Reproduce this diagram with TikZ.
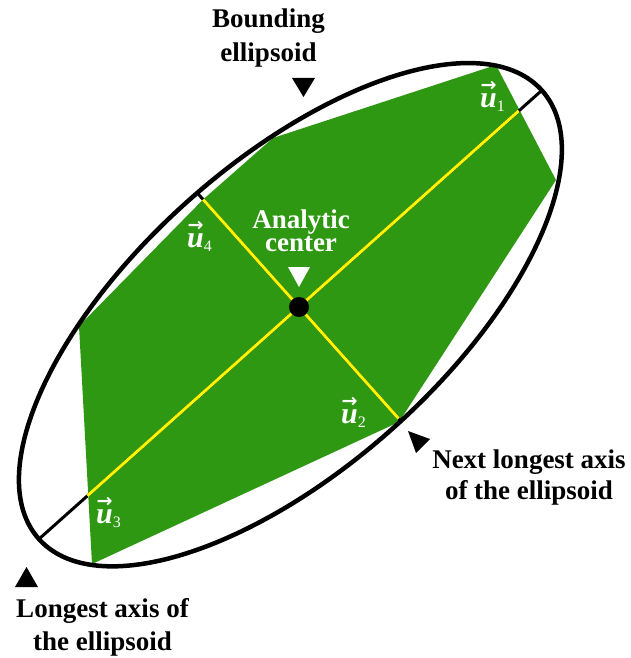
\documentclass[tikz,border=0pt]{standalone}
\usepackage{fontspec}
\setmainfont{Liberation Serif}
\newfontfamily\arrowfont{DejaVu Sans}

\definecolor{polygreen}{RGB}{46,152,19}
\definecolor{axisyellow}{RGB}{255,245,0}

\newcommand{\uvec}[1]{\makebox[0pt][l]{\raisebox{16pt}{\kern0.5pt\arrowfont\bfseries\fontsize{19}{19}\selectfont →}}\textbf{\textit{u}}\raisebox{-4pt}{\fontsize{16}{16}\selectfont #1}}

\tikzset{
  lbl/.style={font=\fontsize{27}{#1}\selectfont\bfseries, align=center, inner sep=0pt},
  lbl/.default=33,
  ulbl/.style={text=white, font=\fontsize{30}{30}\selectfont, inner sep=0pt, anchor=base west},
  axisline/.style={line width=3pt},
}

\begin{document}
\begin{tikzpicture}[x=1pt,y=-1pt]
	\useasboundingbox (0,0) rectangle (631,658);
	% centre of the ellipse, analytic centre, axis ends
	\coordinate (C) at (290.4,314.7);
	\coordinate (D) at (299,307);
	\coordinate (M1) at (541.9,90.3);
	\coordinate (M3) at (38.9,539.1);
	\coordinate (N2) at (400.9,421.2);
	\coordinate (N4) at (197.1,192.8);
	\coordinate (u1) at (518.7,110.9);
	\coordinate (u2) at (398.6,418.6);
	\coordinate (u3) at (87.4,495.8);
	\coordinate (u4) at (203.1,199.5);
	% polytope
	\fill[polygreen] (496,65) -- (556,180) -- (399,422) -- (92,564) -- (79,326) -- (u4) -- (273,138) -- cycle;
	% axes
	\draw[axisline] (M3) -- (M1);
	\draw[axisline] (N4) -- (N2);
	\draw[axisline,axisyellow] (u3) -- (u1);
	\draw[axisline,axisyellow] (u4) -- (u2);
	% ellipse
	\draw[line width=4.5pt, rotate around={41.7:(C)}] (C) ellipse [x radius=337, y radius=153];
	\fill (D) circle [radius=10];
	% markers
	\fill (292,78) -- (315,78) -- (303.5,97) -- cycle;
	\fill[white] (288,267) -- (310,267) -- (299,287) -- cycle;
	\fill (408,431) -- (430,439) -- (416,453) -- cycle;
	\fill (15,587) -- (38,587) -- (26.5,567) -- cycle;
	% labels
	\node[lbl=34] (bounding) at (268.5,38.5) {Bounding\\ellipsoid};
	\node[lbl=23, text=white] (analytic) at (301,231) {Analytic\\center};
	\node[lbl=31] (nextaxis) at (529,478) {Next longest axis\\of the ellipsoid};
	\node[lbl=33] (longaxis) at (102.5,627) {Longest axis of\\the ellipsoid};
	\node[ulbl] (lu1) at (480,108) {\uvec{1}};
	\node[ulbl] (lu2) at (341,423) {\uvec{2}};
	\node[ulbl] (lu3) at (96,523) {\uvec{3}};
	\node[ulbl] (lu4) at (187,247) {\uvec{4}};
\end{tikzpicture}
\end{document}
